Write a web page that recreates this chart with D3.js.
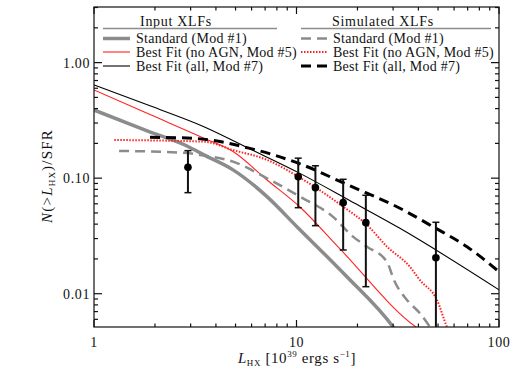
<!DOCTYPE html>
<html>
<head>
<meta charset="utf-8">
<script src="https://cdn.jsdelivr.net/npm/d3@7"></script>
<style>
  body { margin: 0; background: #fff; }
  text { font-family: "Liberation Serif", "DejaVu Serif", serif; fill: #111; }
</style>
</head>
<body>
<div id="graph"></div>
<script>
const width = 526;
const height = 386;
const margin = {left: 94, right: 27, top: 7, bottom: 59};

// axis ranges and ticks
const x_domain = [1, 100];
const y_domain = [0.00515, 3.03];
const x_ticks = [1, 10, 100];
const y_ticks = [0.01, 0.1, 1];

// input XLFs
const std_in_L = [1, 1.87, 2.91, 3.49, 4.86, 7.15, 10.05, 17.4, 30.0, 32];
const std_in_N = [0.389, 0.253, 0.188, 0.159, 0.118, 0.0692, 0.038, 0.0145, 0.00515, 0.0044];
const nAGN_in_L = [1, 1.89, 3.49, 4.86, 7.15, 10.4, 16.4, 38.9, 42];
const nAGN_in_N = [0.58, 0.355, 0.222, 0.170, 0.0965, 0.0563, 0.0244, 0.00515, 0.0047];
const all_in_L = [1, 1.89, 3.49, 5.89, 10.4, 18.4, 32.4, 100];
const all_in_N = [0.641, 0.423, 0.279, 0.179, 0.110, 0.0637, 0.0368, 0.0108];

// simulated XLFs
const std_sim_L = [1.33, 2.78, 3.34, 4.86, 7.15, 10.4, 15.1, 19.0, 22.3, 28.0, 30.3, 35.1, 40.7, 45.6, 48];
const std_sim_N = [0.172, 0.166, 0.159, 0.139, 0.0998, 0.0692, 0.0465, 0.0312, 0.0255, 0.0188, 0.0131, 0.00883, 0.00676, 0.00515, 0.0045];
const nAGN_sim_L = [1.26, 3.49, 4.86, 7.15, 10.4, 17.0, 22.3, 28.0, 36.3, 40.7, 49.4, 55.4, 58];
const nAGN_sim_N = [0.214, 0.207, 0.175, 0.144, 0.101, 0.0567, 0.0394, 0.0255, 0.0171, 0.0131, 0.00883, 0.00515, 0.0044];
const all_sim_L = [1.89, 3.12, 5.89, 10.4, 18.4, 32.4, 47.2, 69.5, 100];
const all_sim_N = [0.226, 0.221, 0.181, 0.133, 0.0856, 0.0549, 0.038, 0.0255, 0.0155];

// observed points
const obs_L = [2.91, 10.2, 12.4, 17.0, 22.0, 48.8];
const obs_N = [0.124, 0.103, 0.0828, 0.0614, 0.0412, 0.0205];
const obs_hi = [0.173, 0.149, 0.128, 0.0978, 0.0711, 0.0415];
const obs_lo = [0.0749, 0.0555, 0.0388, 0.0239, 0.0115, 0.001];

const series = [
  {L: std_in_L, N: std_in_N, color: "#8c8c8c", w: 3.5, dash: null, label: "Standard (Mod #1)", col: 0},
  {L: nAGN_in_L, N: nAGN_in_N, color: "#ff2222", w: 1.1, dash: null, label: "Best Fit (no AGN, Mod #5)", col: 0},
  {L: all_in_L, N: all_in_N, color: "#000", w: 1.1, dash: null, label: "Best Fit (all, Mod #7)", col: 0},
  {L: std_sim_L, N: std_sim_N, color: "#8c8c8c", w: 2.5, dash: "10,6", label: "Standard (Mod #1)", col: 1},
  {L: nAGN_sim_L, N: nAGN_sim_N, color: "#ff2222", w: 2, dash: "1.5,1.5", label: "Best Fit (no AGN, Mod #5)", col: 1},
  {L: all_sim_L, N: all_sim_N, color: "#000", w: 3, dash: "10,6", label: "Best Fit (all, Mod #7)", col: 1}
];

const svg = d3.select('#graph').append('svg')
  .attr('width', width)
  .attr('height', height);

const x = d3.scaleLog().domain(x_domain).range([margin.left, width - margin.right]);
const y = d3.scaleLog().domain(y_domain).range([height - margin.bottom, margin.top]);

svg.append("clipPath").attr("id", "clip")
  .append("rect")
  .attr("x", margin.left).attr("y", margin.top)
  .attr("width", width - margin.left - margin.right)
  .attr("height", height - margin.top - margin.bottom);

const plot = svg.append("g").attr("clip-path", "url(#clip)");

const line = d3.line()
  .x(d => x(d[0]))
  .y(d => y(d[1]))
  .curve(d3.curveMonotoneX);

series.forEach(s => {
  plot.append("path")
    .attr("d", line(s.L.map((v, i) => [v, s.N[i]])))
    .attr("fill", "none")
    .attr("stroke", s.color)
    .attr("stroke-width", s.w)
    .attr("stroke-dasharray", s.dash);
});

// error bars
obs_L.forEach((l, i) => {
  const cx = x(l);
  plot.append("line")
    .attr("x1", cx).attr("x2", cx)
    .attr("y1", y(obs_hi[i])).attr("y2", y(obs_lo[i]))
    .attr("stroke", "#111").attr("stroke-width", 2);
  [obs_hi[i], obs_lo[i]].forEach(v => {
    plot.append("line")
      .attr("x1", cx - 3.5).attr("x2", cx + 3.5)
      .attr("y1", y(v)).attr("y2", y(v))
      .attr("stroke", "#111").attr("stroke-width", 1.5);
  });
  plot.append("circle")
    .attr("cx", cx).attr("cy", y(obs_N[i]))
    .attr("r", 3.8).attr("fill", "#000");
});

// axes (all four sides, ticks pointing in)
const fmt = d3.format(".2f");
const xMinor = [];
for (let d = 1; d < 100; d *= 10) for (let k = 2; k <= 9; k++) xMinor.push(d * k);
const yMinor = [];
for (let d = 0.001; d < 1; d *= 10) for (let k = 2; k <= 9; k++) {
  const v = d * k;
  if (v > y_domain[0] && v < y_domain[1]) yMinor.push(v);
}
yMinor.push(2, 3);

const axes = svg.append("g").attr("stroke", "#111").attr("stroke-width", 1.2);
const x0 = margin.left, x1 = width - margin.right, y0 = height - margin.bottom, y1 = margin.top;

axes.append("rect")
  .attr("x", x0).attr("y", y1).attr("width", x1 - x0).attr("height", y0 - y1)
  .attr("fill", "none");

x_ticks.forEach(v => {
  axes.append("line").attr("x1", x(v)).attr("x2", x(v)).attr("y1", y0).attr("y2", y0 - 7);
  axes.append("line").attr("x1", x(v)).attr("x2", x(v)).attr("y1", y1).attr("y2", y1 + 7);
});
xMinor.forEach(v => {
  axes.append("line").attr("x1", x(v)).attr("x2", x(v)).attr("y1", y0).attr("y2", y0 - 3.5);
  axes.append("line").attr("x1", x(v)).attr("x2", x(v)).attr("y1", y1).attr("y2", y1 + 3.5);
});
y_ticks.forEach(v => {
  axes.append("line").attr("x1", x0).attr("x2", x0 + 8).attr("y1", y(v)).attr("y2", y(v));
  axes.append("line").attr("x1", x1).attr("x2", x1 - 8).attr("y1", y(v)).attr("y2", y(v));
});
yMinor.forEach(v => {
  axes.append("line").attr("x1", x0).attr("x2", x0 + 4).attr("y1", y(v)).attr("y2", y(v));
  axes.append("line").attr("x1", x1).attr("x2", x1 - 4).attr("y1", y(v)).attr("y2", y(v));
});

svg.selectAll(".xlab").data(x_ticks).enter().append("text")
  .attr("x", d => x(d)).attr("y", y0 + 20)
  .attr("text-anchor", "middle").attr("font-size", 14)
  .attr("letter-spacing", 0.6)
  .text(d => d);

svg.selectAll(".ylab").data(y_ticks).enter().append("text")
  .attr("x", x0 - 4).attr("y", d => y(d) + 5)
  .attr("text-anchor", "end").attr("font-size", 14)
  .attr("letter-spacing", 0.6)
  .text(d => fmt(d));

// axis titles
const xt = svg.append("text")
  .attr("x", 297).attr("y", 363)
  .attr("text-anchor", "middle").attr("font-size", 15)
  .attr("letter-spacing", 0.6);
xt.append("tspan").attr("font-style", "italic").text("L");
xt.append("tspan").attr("font-size", 9).attr("dy", 3).text("HX");
xt.append("tspan").attr("dy", -3).text(" [10");
xt.append("tspan").attr("font-size", 9).attr("dy", -6).text("39");
xt.append("tspan").attr("dy", 6).text(" ergs s");
xt.append("tspan").attr("font-size", 9).attr("dy", -6).text("−1");
xt.append("tspan").attr("dy", 6).text("]");

const yt = svg.append("text")
  .attr("transform", "translate(52,176) rotate(-90)")
  .attr("text-anchor", "middle").attr("font-size", 15)
  .attr("letter-spacing", 1.2);
yt.append("tspan").attr("font-style", "italic").text("N");
yt.append("tspan").text("(>");
yt.append("tspan").attr("font-style", "italic").text("L");
yt.append("tspan").attr("font-size", 9).attr("dy", 3).text("HX");
yt.append("tspan").attr("dy", -3).text(")/SFR");

// legend
const legCols = [
  {title: "Input XLFs", titleX: 176, ruleX: [103, 277], sampleX: [103, 130], textX: 136},
  {title: "Simulated XLFs", titleX: 383, ruleX: [301, 491], sampleX: [301, 327], textX: 333}
];
const rowY = [38.5, 52, 66];

legCols.forEach((c, ci) => {
  svg.append("text").attr("x", c.titleX).attr("y", 26)
    .attr("text-anchor", "middle").attr("font-size", 14)
    .attr("letter-spacing", 0.7).text(c.title);
  svg.append("line")
    .attr("x1", c.ruleX[0]).attr("x2", c.ruleX[1]).attr("y1", 28.5).attr("y2", 28.5)
    .attr("stroke", "#8c8c8c").attr("stroke-width", 1.6);
  series.filter(s => s.col === ci).forEach((s, ri) => {
    svg.append("line")
      .attr("x1", c.sampleX[0]).attr("x2", c.sampleX[1])
      .attr("y1", rowY[ri]).attr("y2", rowY[ri])
      .attr("stroke", s.color).attr("stroke-width", s.w)
      .attr("stroke-dasharray", s.dash);
    svg.append("text").attr("x", c.textX).attr("y", rowY[ri] + 4.5)
      .attr("font-size", 14).attr("letter-spacing", 0.25).text(s.label);
  });
});
</script>
</body>
</html>
